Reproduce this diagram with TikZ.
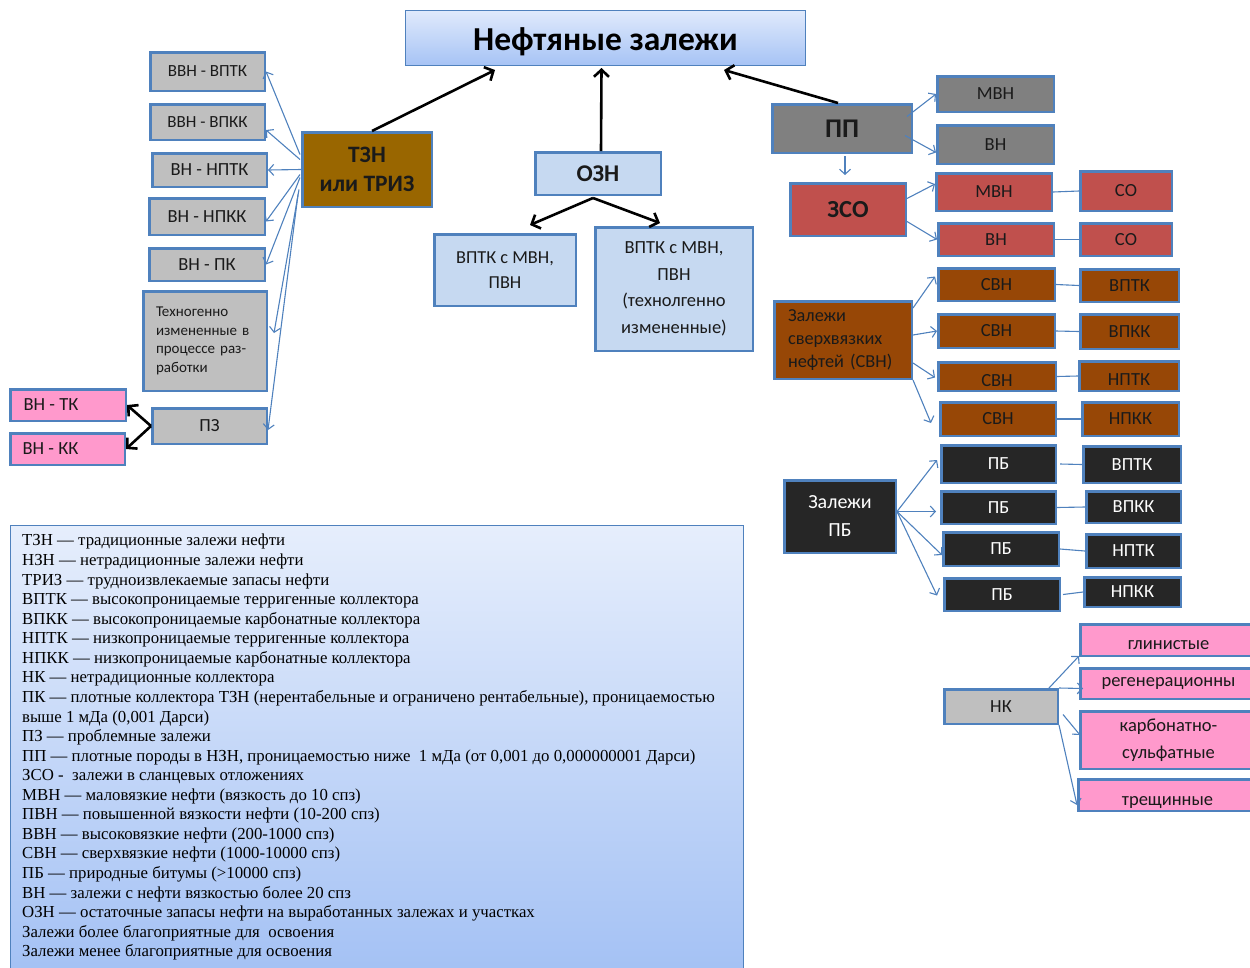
\documentclass[tikz,border=0pt]{standalone}
\usepackage{fontspec}
\setmainfont{Carlito}
\newfontfamily\legfont{Liberation Serif}
\usetikzlibrary{arrows.meta,calc}
\definecolor{bord}{HTML}{4F81BD}
\definecolor{gry}{HTML}{BFBFBF}
\definecolor{dgry}{HTML}{808080}
\definecolor{tzn}{HTML}{996600}
\definecolor{rd}{HTML}{C0504D}
\definecolor{brn}{HTML}{974706}
\definecolor{blk}{HTML}{262626}
\definecolor{pnk}{HTML}{FF99CC}
\definecolor{lbl}{HTML}{C6D9F1}
\definecolor{ttop}{HTML}{E0EAFC}
\definecolor{tbot}{HTML}{A6C3F5}
\definecolor{ltop}{HTML}{E6EEFC}
\definecolor{lbot}{HTML}{A2C0F4}
\definecolor{txt}{HTML}{1A1A1A}
\newcommand\bx[7]{\node[box,#6,minimum width={#4-#2-2.5},minimum height={#5-#3-2.5}] (#1) at ({(#2+#4)/2},{(#3+#5)/2}) {#7};}
\tikzset{
  box/.style={draw=bord, line width=2.5pt, inner sep=0pt, align=center, text=txt, font=\fontsize{18.5}{22}\selectfont},
  gbox/.style={fill=gry},
  dbox/.style={fill=dgry},
  rbox/.style={fill=rd},
  bbox/.style={fill=brn},
  kbox/.style={fill=blk, text=white},
  pbox/.style={fill=pnk},
  lbox/.style={fill=lbl},
  low/.style={text height=#1, text depth=0pt},
  barr/.style={draw=bord, line width=1.1pt, -{Straight Barb[length=5pt,width=11pt]}},
  karr/.style={draw=black, line width=2.6pt, -{Straight Barb[length=7pt,width=15pt]}},
  lnk/.style={draw=bord, line width=1.1pt}
}
\begin{document}
\begin{tikzpicture}[x=1pt,y=-1pt]
\useasboundingbox (0,0) rectangle (1250,967);
% title
\node[draw=bord, line width=1pt, top color=ttop, bottom color=tbot, minimum width=400, minimum height=55, inner sep=0pt, text height=27pt, text depth=3pt, font=\bfseries\fontsize{33.5}{38}\selectfont, text=black] (title) at (605.5,38) {Нефтяные залежи};
% legend
\node[draw=bord, line width=1pt, top color=ltop, bottom color=lbot, minimum width=733, minimum height=460, inner sep=0pt, anchor=north west] (leg) at (10,525) {};
\node[anchor=north west, inner sep=0pt, align=left, text=black, font=\legfont\fontsize{16.8}{19.57}\selectfont] (legtext) at (22,534) {%
ТЗН — традиционные залежи нефти\\
НЗН — нетрадиционные залежи нефти\\
ТРИЗ — трудноизвлекаемые запасы нефти\\
ВПТК — высокопроницаемые терригенные коллектора\\
ВПКК — высокопроницаемые карбонатные коллектора\\
НПТК — низкопроницаемые терригенные коллектора\\
НПКК — низкопроницаемые карбонатные коллектора\\
НК — нетрадиционные коллектора\\
ПК — плотные коллектора ТЗН (нерентабельные и ограничено рентабельные), проницаемостью\\
выше 1 мДа (0,001 Дарси)\\
ПЗ — проблемные залежи\\
ПП — плотные породы в НЗН, проницаемостью ниже \ 1 мДа (от 0,001 до 0,000000001 Дарси)\\
ЗСО - \ залежи в сланцевых отложениях\\
МВН — маловязкие нефти (вязкость до 10 спз)\\
ПВН — повышенной вязкости нефти (10-200 спз)\\
ВВН — высоковязкие нефти (200-1000 спз)\\
СВН — сверхвязкие нефти (1000-10000 спз)\\
ПБ — природные битумы (>10000 спз)\\
ВН — залежи с нефти вязкостью более 20 спз\\
ОЗН — остаточные запасы нефти на выработанных залежах и участках\\
Залежи более благоприятные для \ освоения\\
Залежи менее благоприятные для освоения};
% TZN branch
\bx{tz}{301}{131}{433}{208}{fill=tzn, font=\bfseries\fontsize{23.5}{29}\selectfont}{ТЗН\\или ТРИЗ}
\bx{l1}{149}{51}{266}{92}{gbox, font=\fontsize{17}{20}\selectfont}{ВВН - ВПТК}
\bx{l2}{149}{103}{266}{141}{gbox, font=\fontsize{17}{20}\selectfont}{ВВН - ВПКК}
\bx{l3}{151}{152}{268}{188}{gbox}{ВН - НПТК}
\bx{l4}{148}{197}{266}{236}{gbox}{ВН - НПКК}
\bx{l5}{148}{247}{266}{282}{gbox}{ВН - ПК}
\bx{l6}{142}{290}{268}{392}{gbox, align=left, text width=98pt, font=\fontsize{15}{18.7}\selectfont}{Техногенно\\измененные в\\процессе раз-\\работки}
\bx{pz}{151}{407}{268}{445}{gbox}{ПЗ}
\bx{tk}{9}{388}{127}{422}{pbox}{\hspace*{-34pt}ВН - ТК}
\bx{kk}{9}{432}{126}{466}{pbox}{\hspace*{-34pt}ВН - КК}
% OZN
\bx{oz}{534}{151}{662}{196}{lbox, font=\bfseries\fontsize{24}{28}\selectfont}{ОЗН}
\bx{o1}{433}{233}{577}{307}{lbox, font=\fontsize{18.3}{25}\selectfont}{ВПТК с МВН,\\ПВН}
\bx{o2}{594}{226}{754}{352}{lbox, font=\fontsize{18.5}{26.5}\selectfont}{ВПТК с МВН,\\ПВН\\(технолгенно\\измененные)}
% PP
\bx{pp}{771}{103}{913}{154}{dbox, font=\bfseries\fontsize{27}{30}\selectfont}{ПП}
\bx{p1}{936}{75}{1055}{113}{dbox}{МВН}
\bx{p2}{936}{124}{1055}{165}{dbox}{ВН}
\bx{zs}{789}{182}{907}{237}{rbox, font=\bfseries\fontsize{24.5}{28}\selectfont}{ЗСО}
\bx{z1}{935}{172}{1053}{212}{rbox}{МВН}
\bx{z2}{937}{222}{1055}{257}{rbox}{ВН}
\bx{c1}{1079}{170}{1173}{212}{rbox}{СО}
\bx{c2}{1079}{222}{1173}{257}{rbox}{СО}
% SVN
\bx{sv}{773}{300}{913}{380}{bbox, align=left, text width=110pt, font=\fontsize{18.3}{23}\selectfont}{Залежи\\сверхвязких\\нефтей (СВН)}
\bx{s1}{937}{267}{1056}{302}{bbox}{СВН}
\bx{s2}{937}{313}{1056}{349}{bbox}{СВН}
\bx{s3}{937}{361}{1057}{392}{bbox, low=20pt}{СВН}
\bx{s4}{939}{401}{1057}{437}{bbox}{СВН}
\bx{r1}{1079}{268}{1180}{303}{bbox}{ВПТК}
\bx{r2}{1079}{313}{1180}{350}{bbox}{ВПКК}
\bx{r3}{1078}{360}{1180}{392}{bbox, low=19pt}{НПТК}
\bx{r4}{1081}{401}{1180}{437}{bbox}{НПКК}
% PB
\bx{pb}{783}{479}{897}{554}{kbox, font=\fontsize{20}{28}\selectfont}{Залежи\\ПБ}
\bx{b1}{940}{444}{1057}{484}{kbox}{ПБ}
\bx{b2}{940}{490}{1057}{525}{kbox}{ПБ}
\bx{b3}{942}{531}{1060}{567}{kbox}{ПБ}
\bx{b4}{943}{577}{1061}{612}{kbox}{ПБ}
\bx{q1}{1082}{445}{1182}{484}{kbox}{ВПТК}
\bx{q2}{1085}{490}{1182}{524}{kbox}{ВПКК}
\bx{q3}{1085}{533}{1182}{569}{kbox}{НПТК}
\bx{q4}{1083}{576}{1182}{608}{kbox}{НПКК}
% NK
\bx{nk}{943}{688}{1059}{725}{gbox}{НК}
\bx{g1}{1079}{623}{1258}{657}{pbox, low=18pt}{глинистые}
\bx{g2}{1079}{667}{1258}{700}{pbox}{регенерационны}
\bx{g3}{1079}{710}{1258}{770}{pbox, font=\fontsize{18.5}{27}\selectfont}{карбонатно-\\сульфатные}
\bx{g4}{1077}{778}{1258}{812}{pbox, low=20pt}{трещинные}
% black arrows
\draw[karr] ($(tz.north)+(5,0)$) -- ($(title.south west)+(90,4)$);
\draw[karr] ($(oz.north)+(3,0)$) -- ($(title.south)+(-4,2)$);
\draw[karr] ($(pp.north)+(-4,0)$) -- ($(title.south east)+(-82,4)$);
\draw[karr] ($(oz.south)+(-5,2)$) -- ($(o1.north)+(25,-8)$);
\draw[karr] ($(oz.south)+(-5,2)$) -- ($(o2.north)+(-14,-3)$);
\draw[karr] (pz.west) -- (tk.east);
\draw[karr] (pz.west) -- (kk.east);
% TZN fan
\draw[barr] ($(tz.west)+(-1,-15)$) -- (l1.east);
\draw[barr] ($(tz.west)+(-1,-10)$) -- ($(l2.east)+(0,8)$);
\draw[barr] (tz.west) -- (l3.east);
\draw[barr] ($(tz.west)+(-1,5)$) -- ($(l4.east)+(0,5)$);
\draw[barr] ($(tz.west)+(-1,8)$) -- (l5.east);
\draw[barr] ($(tz.west)+(-2,20)$) -- ($(l6.east)+(6,-8)$);
\draw[barr] ($(tz.west)+(-3,25)$) -- ($(pz.east)+(0,4)$);
% PP
\draw[barr] ($(pp.east)+(-6,-12)$) -- (p1.west);
\draw[barr] ($(pp.east)+(-8,7)$) -- ($(p2.west)+(0,8)$);
\draw[barr] ($(pp.south)+(3,2)$) -- ($(zs.north)+(-3,-7)$);
\draw[barr] ($(zs.east)+(0,-11)$) -- ($(z1.west)+(0,-8)$);
\draw[barr] ($(zs.east)+(0,12)$) -- (z2.west);
\draw[lnk] (z1.east) -- (c1.west);
\draw[lnk] (z2.east) -- (c2.west);
% SVN
\draw[barr] ($(sv.east)+(0,-32)$) -- ($(s1.west)+(-2,-8)$);
\draw[barr] ($(sv.east)+(0,-5)$) -- (s2.west);
\draw[barr] ($(sv.east)+(0,23)$) -- ($(s3.west)+(-2,1)$);
\draw[barr] ($(sv.east)+(0,40)$) -- ($(s4.west)+(-8,4)$);
\draw[lnk] (s1.east) -- (r1.west);
\draw[lnk] (s2.east) -- (r2.west);
\draw[lnk] (s3.east) -- (r3.west);
\draw[lnk] (s4.east) -- (r4.west);
% PB
\draw[barr] ($(pb.east)+(0,-5)$) -- ($(b1.west)+(-3,-4)$);
\draw[barr] ($(pb.east)+(0,-5)$) -- ($(b2.west)+(-4,4)$);
\draw[barr] ($(pb.east)+(0,-5)$) -- ($(b3.west)+(0,6)$);
\draw[barr] ($(pb.east)+(0,-5)$) -- ($(b4.west)+(-6,1)$);
\draw[lnk] ($(b1.east)+(3,0)$) -- (q1.west);
\draw[lnk] (b2.east) -- (q2.west);
\draw[lnk] (b3.east) -- (q3.west);
\draw[lnk] ($(b4.east)+(2,0)$) -- (q4.west);
% NK
\draw[barr] ($(nk.north east)+(-10,0)$) -- ($(g1.south west)+(0,-1)$);
\draw[barr] (nk.north east) -- ($(g2.west)+(4,5)$);
\draw[barr] ($(nk.east)+(4,8)$) -- ($(g3.west)+(1,-5)$);
\draw[barr] (nk.south east) -- ($(g4.west)+(0,10)$);
\end{tikzpicture}
\end{document}
